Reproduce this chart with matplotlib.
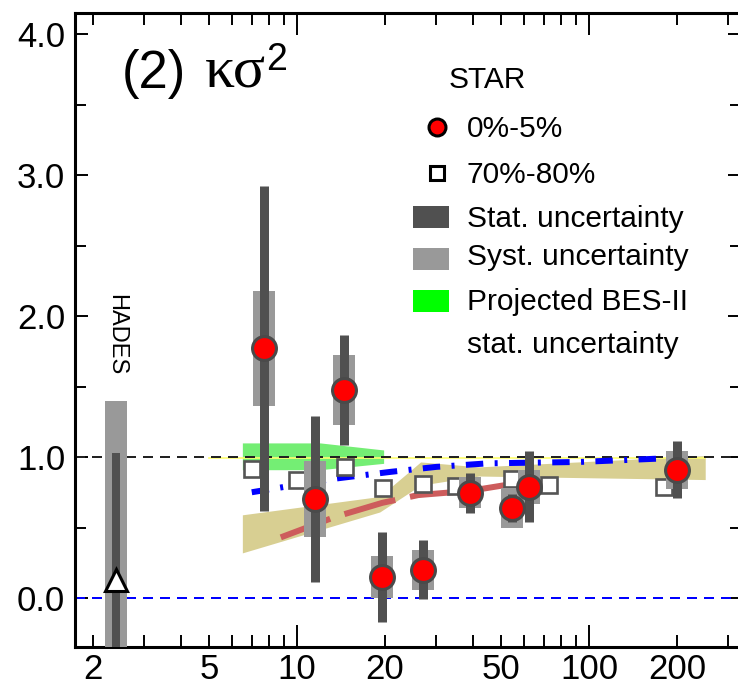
import matplotlib
matplotlib.use("Agg")
import matplotlib.pyplot as plt
from matplotlib.patches import Rectangle
from matplotlib.ticker import FixedLocator, FuncFormatter

plt.rcParams['font.family'] = ['Liberation Sans', 'DejaVu Sans']

# STAR 0%-5%
energy = [7.7, 11.5, 14.5, 19.6, 27, 39, 54.4, 62.4, 200]
kappa = [1.77, 0.70, 1.475, 0.15, 0.20, 0.745, 0.64, 0.79, 0.91]
stat_err = [1.15, 0.59, 0.39, 0.32, 0.21, 0.14, 0.10, 0.25, 0.20]
syst_err = [0.41, 0.27, 0.25, 0.15, 0.14, 0.11, 0.14, 0.12, 0.135]

# STAR 70%-80% (drawn slightly shifted in energy)
energy_per = [7.0, 10.0, 14.6, 19.7, 27, 35, 54.7, 73, 181]
kappa_per = [0.915, 0.835, 0.93, 0.78, 0.81, 0.795, 0.845, 0.80, 0.79]

# HADES
hades_e = [2.4]
hades_k = [0.13]
hades_stat = [0.90]
hades_syst = [1.27]

# model band (tan)
band_x = [6.5, 19.2, 26.5, 42, 250]
band_hi = [0.59, 0.72, 0.965, 0.93, 1.01]
band_lo = [0.32, 0.61, 0.80, 0.865, 0.84]

# projected BES-II stat. uncertainty
bes_x = [6.5, 12, 19.8]
bes_hi = [1.10, 1.10, 1.05]
bes_lo = [0.91, 0.91, 0.955]

# thin yellow line
yel_x = [5, 250]
yel_y = [0.99, 0.99]

# blue dash-dot curve
blue_x = [7.0, 13.3, 21, 30, 45, 93, 180]
blue_y = [0.75, 0.845, 0.895, 0.93, 0.955, 0.965, 0.99]

# red dashed curve
red_x = [8.8, 13.5, 19.6, 26, 39, 57]
red_y = [0.43, 0.575, 0.675, 0.73, 0.76, 0.815]

W, H = 738, 690
def fx(p):
    return p / W
def fy(p):
    return 1 - p / H
def pt(px):
    return px * 72 / 100.0

fig = plt.figure(figsize=(W / 100, H / 100), dpi=100)
ax = fig.add_axes([75 / W, 43 / H, 666 / W, 634 / H])
ax.set_xscale('log')
ax.set_xlim(1.737, 331.5)
ax.set_ylim(-0.3475, 4.149)

# bands and lines
ax.fill_between(band_x, band_lo, band_hi, color='#d8cf92', lw=0, zorder=1)
ax.fill_between(bes_x, bes_lo, bes_hi, color='#74ee74', lw=0, zorder=1.2)
ax.plot(yel_x, yel_y, color='#ffff70', lw=1.2, zorder=1.5)
ax.axhline(1.0, color='#222222', lw=pt(2), ls=(0, (5, 3.5)), zorder=2)
ax.axhline(0.0, color='#0000ff', lw=pt(2), ls=(0, (5, 3.5)), zorder=2)
ax.plot(blue_x, blue_y, color='#0000ff', lw=pt(6), ls=(0, (2.9, 1.9, 0.5, 1.9)),
        dash_capstyle='butt', zorder=2.5)
ax.plot(red_x, red_y, color='#cd5c5c', lw=pt(6), ls=(0, (8.8, 2.5)),
        dash_capstyle='butt', zorder=2.5)

# HADES
for e, k, st, sy in zip(hades_e, hades_k, hades_stat, hades_syst):
    ax.vlines(e, k - sy, k + sy, color='#999999', lw=pt(22), capstyle='butt', zorder=3)
    ax.vlines(e, k - st, k + st, color='#505050', lw=pt(8), capstyle='butt', zorder=3.1)
ax.plot(hades_e, hades_k, ls='none', marker='^', ms=16, mfc='white', mec='black',
        mew=2.2, zorder=3.2)
ax.text(2.4, 1.87, 'HADES', rotation=270, ha='center', va='center', fontsize=17)

# 70-80%
ax.plot(energy_per, kappa_per, ls='none', marker='s', ms=12, mfc='white',
        mec='#555555', mew=1.9, zorder=4)

# 0-5%
for e, k, st, sy in zip(energy, kappa, stat_err, syst_err):
    ax.vlines(e, k - sy, k + sy, color='#999999', lw=pt(22), capstyle='butt', zorder=5)
    ax.vlines(e, k - st, k + st, color='#505050', lw=pt(9), capstyle='butt', zorder=6)
ax.plot(energy, kappa, ls='none', marker='o', ms=17.2, mfc='#ff0000', mec='#4a4a4a',
        mew=2.2, zorder=7)

# axes style
for s in ax.spines.values():
    s.set_linewidth(2.2)
ax.xaxis.set_major_locator(FixedLocator([10, 100]))
ax.xaxis.set_minor_locator(FixedLocator([2, 3, 4, 5, 6, 7, 8, 9, 20, 30, 40, 50, 60, 70, 80, 90, 200, 300]))
ax.xaxis.set_major_formatter(FuncFormatter(lambda v, p: '%d' % round(v)))
minor_lab = {2: '2', 5: '5', 20: '20', 50: '50', 200: '200'}
ax.xaxis.set_minor_formatter(FuncFormatter(lambda v, p: minor_lab.get(int(round(v)), '')))
ax.yaxis.set_major_locator(FixedLocator([0, 1, 2, 3, 4]))
ax.yaxis.set_minor_locator(FixedLocator([0.5, 1.5, 2.5, 3.5]))
ax.yaxis.set_major_formatter(FuncFormatter(lambda v, p: '%.1f' % v))
ax.tick_params(which='both', direction='in', top=True, right=True, width=1.4,
               labelsize=25, colors='black')
ax.tick_params(axis='x', which='major', length=16, pad=4.5)
ax.tick_params(axis='x', which='minor', length=8.6, pad=4.5)
ax.tick_params(axis='y', which='major', length=9.4, pad=7)
ax.tick_params(axis='y', which='minor', length=8)

# panel label
fig.text(fx(122), fy(88), '(2)', fontsize=38, va='baseline')
fig.text(fx(205), fy(88), 'κσ', fontsize=43, va='baseline',
         family=['Liberation Serif', 'DejaVu Serif'])
fig.text(fx(266), fy(70), '2', fontsize=27, va='baseline')

# legend
lfs = 21.5
fig.text(fx(449), fy(88), 'STAR', fontsize=lfs, va='baseline')
fig.add_artist(plt.Line2D([fx(437)], [fy(127)], marker='o', ms=12.2, mfc='#ff0000',
                          mec='black', mew=2.2, transform=fig.transFigure))
fig.text(fx(467), fy(137), '0%-5%', fontsize=lfs, va='baseline')
fig.add_artist(plt.Line2D([fx(437)], [fy(173)], marker='s', ms=10, mfc='white',
                          mec='black', mew=2.2, transform=fig.transFigure))
fig.text(fx(467), fy(183), '70%-80%', fontsize=lfs, va='baseline')
for yc, c in [(217, '#505050'), (259, '#999999'), (301, '#00ff00')]:
    fig.add_artist(Rectangle((fx(413), fy(yc + 11)), 36 / W, 22 / H, color=c, lw=0,
                             transform=fig.transFigure))
fig.text(fx(467), fy(227), 'Stat. uncertainty', fontsize=lfs, va='baseline')
fig.text(fx(467), fy(265), 'Syst. uncertainty', fontsize=lfs, va='baseline')
fig.text(fx(467), fy(310), 'Projected BES-II', fontsize=lfs, va='baseline')
fig.text(fx(467), fy(353), 'stat. uncertainty', fontsize=lfs, va='baseline')

fig.savefig('out.png', dpi=100)
